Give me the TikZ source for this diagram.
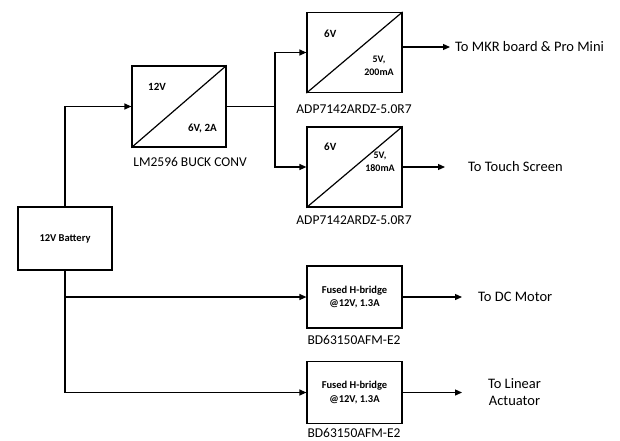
\documentclass[tikz,border=0pt]{standalone}
\usepackage{fontspec}
\setmainfont{Carlito}
\usetikzlibrary{arrows.meta}
\begin{document}
\begin{tikzpicture}[x=1pt,y=-1pt,
  blk/.style={draw,line width=1.2pt,inner sep=0pt,minimum width=95pt,minimum height=81pt},
  hbox/.style={draw,line width=1.2pt,inner sep=0pt,minimum width=95pt,minimum height=62pt,align=center,font=\fontsize{10.5}{13.5}\selectfont\bfseries},
  small/.style={inner sep=0pt,font=\fontsize{11}{12.5}\selectfont\bfseries,align=center},
  tiny/.style={inner sep=0pt,font=\fontsize{10}{12.5}\selectfont\bfseries,align=center},
  lbl/.style={inner sep=0pt,font=\fontsize{13.5}{15}\selectfont},
  outt/.style={inner sep=0pt,font=\fontsize{14.5}{17}\selectfont},
  conn/.style={line width=1.2pt},
  arr/.style={line width=1.2pt,-{Triangle[length=7pt,width=6pt]}}]
\useasboundingbox (0,0) rectangle (620,440);
% battery
\node[draw,line width=1.2pt,minimum width=94pt,minimum height=63pt,inner sep=0pt,font=\fontsize{10.5}{12}\selectfont\bfseries] (batt) at (65,238.5) {12V Battery};
% buck converter
\node[blk,minimum width=94pt] (buck) at (179,106.5) {};
\draw[conn] (buck.south west) -- (buck.north east);
\node[small,anchor=west] (buckin) at (148,87) {12V};
\node[small,anchor=east] (buckout) at (217,128) {6V, 2A};
\node[lbl] (buckl) at (190,162) {LM2596 BUCK CONV};
% ADP 1
\node[blk,minimum height=80pt] (adpa) at (354.5,52.5) {};
\draw[conn] (adpa.south west) -- (adpa.north east);
\node[small,anchor=west] (adpain) at (324,34) {6V};
\node[tiny] (adpaout) at (379,66) {5V,\\200mA};
\node[lbl] (adpal) at (354,109) {ADP7142ARDZ-5.0R7};
% ADP 2
\node[blk,minimum height=80pt] (adpb) at (354.5,167) {};
\draw[conn] (adpb.south west) -- (adpb.north east);
\node[small,anchor=west] (adpbin) at (324,147) {6V};
\node[tiny] (adpbout) at (380,162) {5V,\\180mA};
\node[lbl] (adpbl) at (354,220) {ADP7142ARDZ-5.0R7};
% H-bridges
\node[hbox] (hba) at (354.5,297) {Fused H-bridge\\@12V, 1.3A};
\node[lbl] (hbal) at (354,340) {BD63150AFM-E2};
\node[hbox] (hbb) at (354.5,392.5) {Fused H-bridge\\@12V, 1.3A};
\node[lbl] (hbbl) at (354,433) {BD63150AFM-E2};
% output texts
\node[outt,anchor=west] (mkr) at (455,47) {To MKR board \& Pro Mini};
\node[outt,anchor=west] (touch) at (468,167) {To Touch Screen};
\node[outt,anchor=west] (dc) at (478,297) {To DC Motor};
\node[outt,align=center] (lin) at (514.5,392.5) {To Linear\\Actuator};
\coordinate (mkrend) at (450,47);
\coordinate (touchend) at (445,167);
\coordinate (dcend) at (462,297);
\coordinate (linend) at (462,392.5);
\coordinate (jct) at (275,106.5);
% connectors
\draw[arr] (batt.north) |- (buck.west);
\draw[arr] (batt.south) |- (hba.west);
\draw[arr] (batt.south) |- (hbb.west);
\draw[conn] (buck.east) -- (jct);
\draw[arr] (jct) |- (adpa.west);
\draw[arr] (jct) |- (adpb.west);
\draw[arr] (adpa.east |- mkrend) -- (mkrend);
\draw[arr] (adpb.east |- touchend) -- (touchend);
\draw[arr] (hba.east) -- (dcend);
\draw[arr] (hbb.east) -- (linend);
\end{tikzpicture}
\end{document}
